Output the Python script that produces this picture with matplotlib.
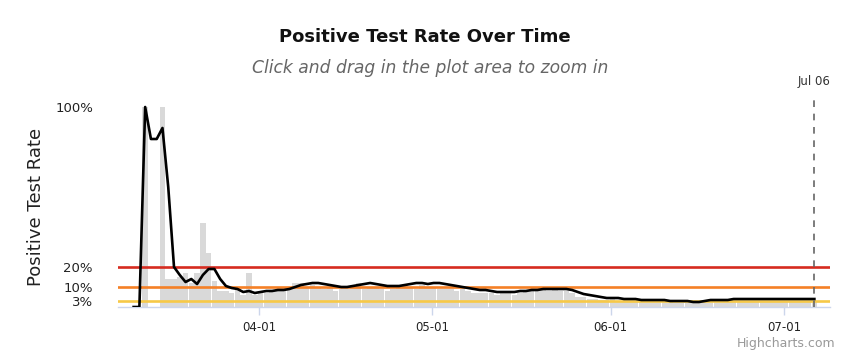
import numpy as np
import pandas as pd
import matplotlib
matplotlib.use('Agg')
import matplotlib.pyplot as plt
import matplotlib.dates as mdates

# daily positive rate (%) from 2020-03-10 to 2020-07-06
start = '2020-03-10 07:00'
daily_rate = [
    0, 0, 100, 0, 0, 100, 14, 14, 15, 17, 12, 17, 42, 27, 13, 8, 8, 7, 9, 6,
    17, 6, 8, 7, 8, 9, 8, 9, 12, 12, 10, 11, 10, 9, 10, 8, 9, 9, 10, 12,
    9, 10, 10, 9, 8, 9, 10, 11, 10, 9, 11, 10, 10, 9, 9, 9, 8, 9, 8, 7,
    7, 7, 7, 6, 7, 7, 6, 7, 8, 8, 8, 9, 8, 9, 8, 8, 7, 5, 5, 4,
    4, 3.5, 3.5, 4, 3, 3, 3, 3, 2.5, 2.5, 3, 2.5, 2.5, 2.5, 2, 2, 2, 2, 2, 3,
    3, 3, 3, 3, 3, 3, 3, 3, 3, 3, 3, 3, 3, 3, 3, 3, 3, 3, 3,
]
# rolling positive rate (%)
rolling_rate = [
    0, 0, 100, 84, 84, 89.5, 60, 20, 16, 12.5, 14, 11.5, 16, 19, 19, 14, 10.5, 9.5, 9, 7.5,
    8, 7, 7.5, 8, 8, 8.5, 8.5, 9, 10, 11, 11.5, 12, 12, 11.5, 11, 10.5, 10, 10, 10.5, 11,
    11.5, 12, 11.5, 11, 10.5, 10.5, 10.5, 11, 11.5, 12, 12, 11.5, 12, 12, 11.5, 11, 10.5, 10, 9.5, 9,
    8.5, 8.5, 8, 7.5, 7.5, 7.5, 7.5, 8, 8, 8.5, 8.5, 9, 9, 9, 9, 9, 8.5, 7.5, 6.5, 6,
    5.5, 5, 4.5, 4.5, 4.5, 4, 4, 4, 3.5, 3.5, 3.5, 3.5, 3.5, 3, 3, 3, 3, 2.5, 2.5, 3,
    3.5, 3.5, 3.5, 3.5, 4, 4, 4, 4, 4, 4, 4, 4, 4, 4, 4, 4, 4, 4, 4,
]
dates = pd.date_range(start, periods=len(daily_rate), freq='D')

thresholds = [20, 10, 3]
threshold_colors = ['#d62b1f', '#f58025', '#f7c948']
ytick_vals = [3, 10, 20, 100]
marker_date = pd.Timestamp('2020-07-06 07:00')

fig = plt.figure(figsize=(8.5, 3.54), dpi=100)
ax = fig.add_axes([118 / 850, 1 - 307 / 354, 712 / 850, 212 / 354])

ax.bar(dates, daily_rate, width=0.95, color='#d9d9d9', zorder=1)
for t, c in zip(thresholds, threshold_colors):
    ax.axhline(t, color=c, lw=1.9, zorder=2)
ax.plot(dates, rolling_rate, color='black', lw=1.9, zorder=3)

ax.axvline(marker_date, ymin=0, ymax=1, color='#666666', lw=1.2,
           linestyle=(0, (4, 4)), zorder=4)
ax.text(marker_date, 109.5, 'Jul 06', ha='center', va='bottom', fontsize=8.5,
        color='#333333')

ax.set_xlim(pd.Timestamp('2020-03-07 14:00'), pd.Timestamp('2020-07-09'))
ax.set_ylim(0, 106)
ax.set_yticks(ytick_vals)
ax.set_yticklabels([f'{v}%' for v in ytick_vals], fontsize=9.5, color='#222222')
ax.xaxis.set_major_locator(mdates.MonthLocator(bymonth=[4, 5, 6, 7]))
ax.xaxis.set_major_formatter(mdates.DateFormatter('%m-%d'))
ax.tick_params(axis='x', labelsize=8.5, colors='#ccd6eb', labelcolor='#222222',
               length=6, width=1, pad=4)
ax.tick_params(axis='y', length=0, pad=18)
for s in ['top', 'right', 'left']:
    ax.spines[s].set_visible(False)
ax.spines['bottom'].set_color('#ccd6eb')
ax.spines['bottom'].set_linewidth(1)
ax.set_ylabel('Positive Test Rate', fontsize=13, color='#222222', labelpad=2)
ax.yaxis.set_label_coords(-0.102, 0.47)

fig.text(0.5, 1 - 37 / 354, 'Positive Test Rate Over Time', ha='center', va='center',
         fontsize=13, fontweight='bold', color='#111111')
fig.text(430 / 850, 1 - 68 / 354, 'Click and drag in the plot area to zoom in', ha='center',
         va='center', fontsize=12.3, style='italic', color='#666666')
fig.text(835 / 850, 1 - 343 / 354, 'Highcharts.com', ha='right', va='center',
         fontsize=9, color='#999999')

fig.savefig('out.png', dpi=100)
